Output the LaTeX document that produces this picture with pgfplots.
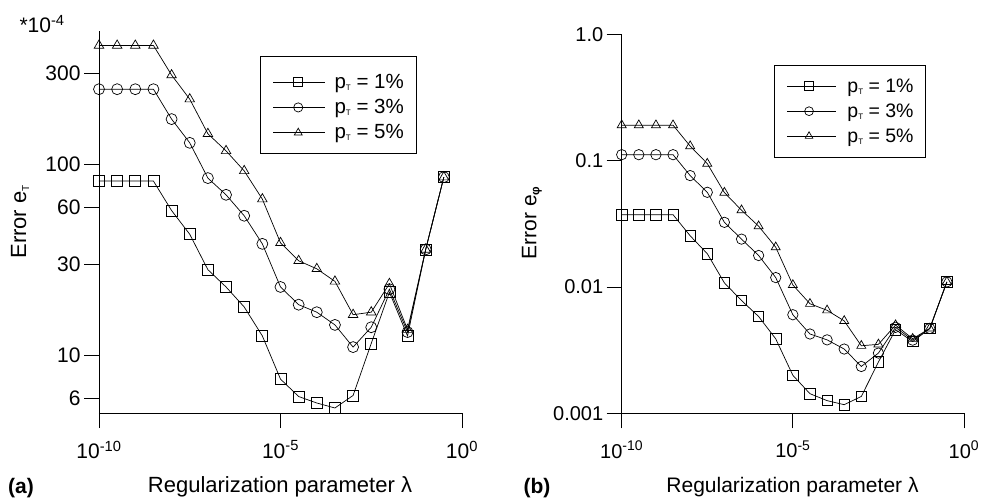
\documentclass[border=0pt]{standalone}
\usepackage{fontspec}
\setmainfont{Liberation Sans}
\usepackage{pgfplots}
\usepackage{pgfplotstable}
\pgfplotsset{compat=1.18}

\pgfplotstableread{
x a1 a3 a5 b1 b3 b5
1e-10 82 248 420 0.0375 0.112 0.192
3.1623e-10 82 248 420 0.0375 0.112 0.192
1e-9 82 248 420 0.0375 0.112 0.192
3.1623e-9 82 248 420 0.0375 0.112 0.192
1e-8 57.5 173 294 0.0255 0.0765 0.131
3.1623e-8 43.2 130 220 0.0184 0.0564 0.0952
1e-7 28.2 85 145 0.0108 0.0326 0.0561
3.1623e-7 22.9 69.5 118 0.00783 0.0240 0.0407
1e-6 18.0 54 92.7 0.00585 0.0178 0.0304
3.1623e-6 12.7 38.5 66 0.00389 0.0119 0.0207
1e-5 7.55 22.9 39 0.0020 0.00604 0.0104
3.1623e-5 6.12 18.5 31.4 0.00143 0.00425 0.00738
1e-4 5.66 16.9 28.5 0.00126 0.00382 0.00655
3.1623e-4 5.33 14.5 24.5 0.00117 0.00323 0.0054
1e-3 6.2 11.1 16.4 0.00136 0.00235 0.00343
3.1623e-3 11.6 14.1 16.9 0.00255 0.0030 0.00352
1e-2 21.5 22.3 23.8 0.0046 0.0048 0.0050
3.1623e-2 12.7 13.3 13.7 0.0037 0.0038 0.0039
1e-1 36 36 36 0.0047 0.0047 0.0047
3.1623e-1 86 86 86 0.011 0.011 0.011
}\datatable

\newcommand{\pT}{p\raisebox{-2pt}{\fontsize{8}{8}\selectfont T}}

\begin{document}
\begin{tikzpicture}[x=1pt,y=1pt]
\useasboundingbox (0,0) rectangle (981,500);

% ---------- (a) ----------
\begin{axis}[
  scale only axis,
  xmode=log, ymode=log,
  axis lines=left,
  axis line style={-, line width=0.8pt},
  tick align=outside,
  major tick length=15pt,
  tick style={line width=0.8pt, black},
  xminorticks=false, yminorticks=false,
  xmin=1e-10, xmax=1,
  xtick={1e-10,1e-5,1},
  xticklabels={10\textsuperscript{-10},10\textsuperscript{-5},10\textsuperscript{0}},
  xticklabel style={yshift=-9pt},
  clip=false,
  legend cell align=left,
  legend image code/.code={\path (0pt,14pt); \draw[#1, mark=none] (0pt,0pt) -- (52pt,0pt); \draw[#1, mark size=4.6pt] plot coordinates {(25pt,0pt)};},
  at={(99pt,86.7pt)}, anchor=south west,
  width=363pt, height=382.3pt,
  ymin=5, ymax=500,
  ytick={6,10,30,60,100,300},
  yticklabels={6,10,30,60,100,300},
  tick label style={font=\fontsize{21}{21}\selectfont},
  legend style={at={(0.4435,0.935)}, anchor=north west, draw=black, line width=0.8pt,
    font=\fontsize{20.5}{20.5}\selectfont, inner xsep=12.5pt, inner ysep=11.5pt,
    row sep=2pt, column sep=9pt,
    nodes={inner sep=0pt, text height=15pt, text depth=3pt}},
]
\addplot[black, line width=0.7pt, mark=square, mark size=5.5pt] table[x=x,y=a1] {\datatable};
\addlegendentry{\pT{} = 1\%}
\addplot[black, line width=0.7pt, mark=o, mark size=5.5pt] table[x=x,y=a3] {\datatable};
\addlegendentry{\pT{} = 3\%}
\addplot[black, line width=0.7pt, mark=triangle, mark size=5.5pt] table[x=x,y=a5] {\datatable};
\addlegendentry{\pT{} = 5\%}
\end{axis}

% ---------- (b) ----------
\begin{axis}[
  scale only axis,
  xmode=log, ymode=log,
  axis lines=left,
  axis line style={-, line width=0.8pt},
  tick align=outside,
  major tick length=15pt,
  tick style={line width=0.8pt, black},
  xminorticks=false, yminorticks=false,
  xmin=1e-10, xmax=1,
  xtick={1e-10,1e-5,1},
  xticklabels={10\textsuperscript{-10},10\textsuperscript{-5},10\textsuperscript{0}},
  xticklabel style={yshift=-9pt},
  clip=false,
  legend cell align=left,
  legend image code/.code={\draw[#1, mark=none] (0pt,0pt) -- (49pt,0pt); \draw[#1, mark size=4.4pt] plot coordinates {(22pt,0pt)};},
  at={(621.7pt,86.7pt)}, anchor=south west,
  width=342.3pt, height=378.6pt,
  ymin=0.001, ymax=1,
  ytick={0.001,0.01,0.1,1},
  yticklabels={0.001,0.01,0.1,1.0},
  tick label style={font=\fontsize{20}{20}\selectfont},
  legend style={at={(0.4458,0.92)}, anchor=north west, draw=black, line width=0.8pt,
    font=\fontsize{19.5}{19.5}\selectfont, inner xsep=12pt, inner ysep=11.8pt,
    row sep=7pt, column sep=11pt,
    nodes={inner sep=0pt, text height=15pt, text depth=3pt}},
]
\addplot[black, line width=0.7pt, mark=square, mark size=5.2pt] table[x=x,y=b1] {\datatable};
\addlegendentry{\pT{} = 1\%}
\addplot[black, line width=0.7pt, mark=o, mark size=5.2pt] table[x=x,y=b3] {\datatable};
\addlegendentry{\pT{} = 3\%}
\addplot[black, line width=0.7pt, mark=triangle, mark size=5.2pt] table[x=x,y=b5] {\datatable};
\addlegendentry{\pT{} = 5\%}
\end{axis}

% labels
\node[font=\fontsize{21}{21}\selectfont, anchor=base west] at (16,467) {*10\textsuperscript{-4}};
\node[rotate=90, font=\fontsize{22}{22}\selectfont] at (20,278) {Error e\raisebox{-3pt}{\fontsize{10}{10}\selectfont T}};
\node[rotate=90, font=\fontsize{21}{21}\selectfont] at (532,277) {Error e\raisebox{-3pt}{\fontsize{12}{12}\selectfont\bfseries φ}};
\node[font=\fontsize{22}{22}\selectfont] at (280,13) {Regularization parameter λ};
\node[font=\fontsize{21}{21}\selectfont] at (792.5,13) {Regularization parameter λ};
\node[font=\fontsize{21}{21}\selectfont\bfseries] at (21,12) {(a)};
\node[font=\fontsize{21}{21}\selectfont\bfseries] at (537,12) {(b)};
\end{tikzpicture}
\end{document}
